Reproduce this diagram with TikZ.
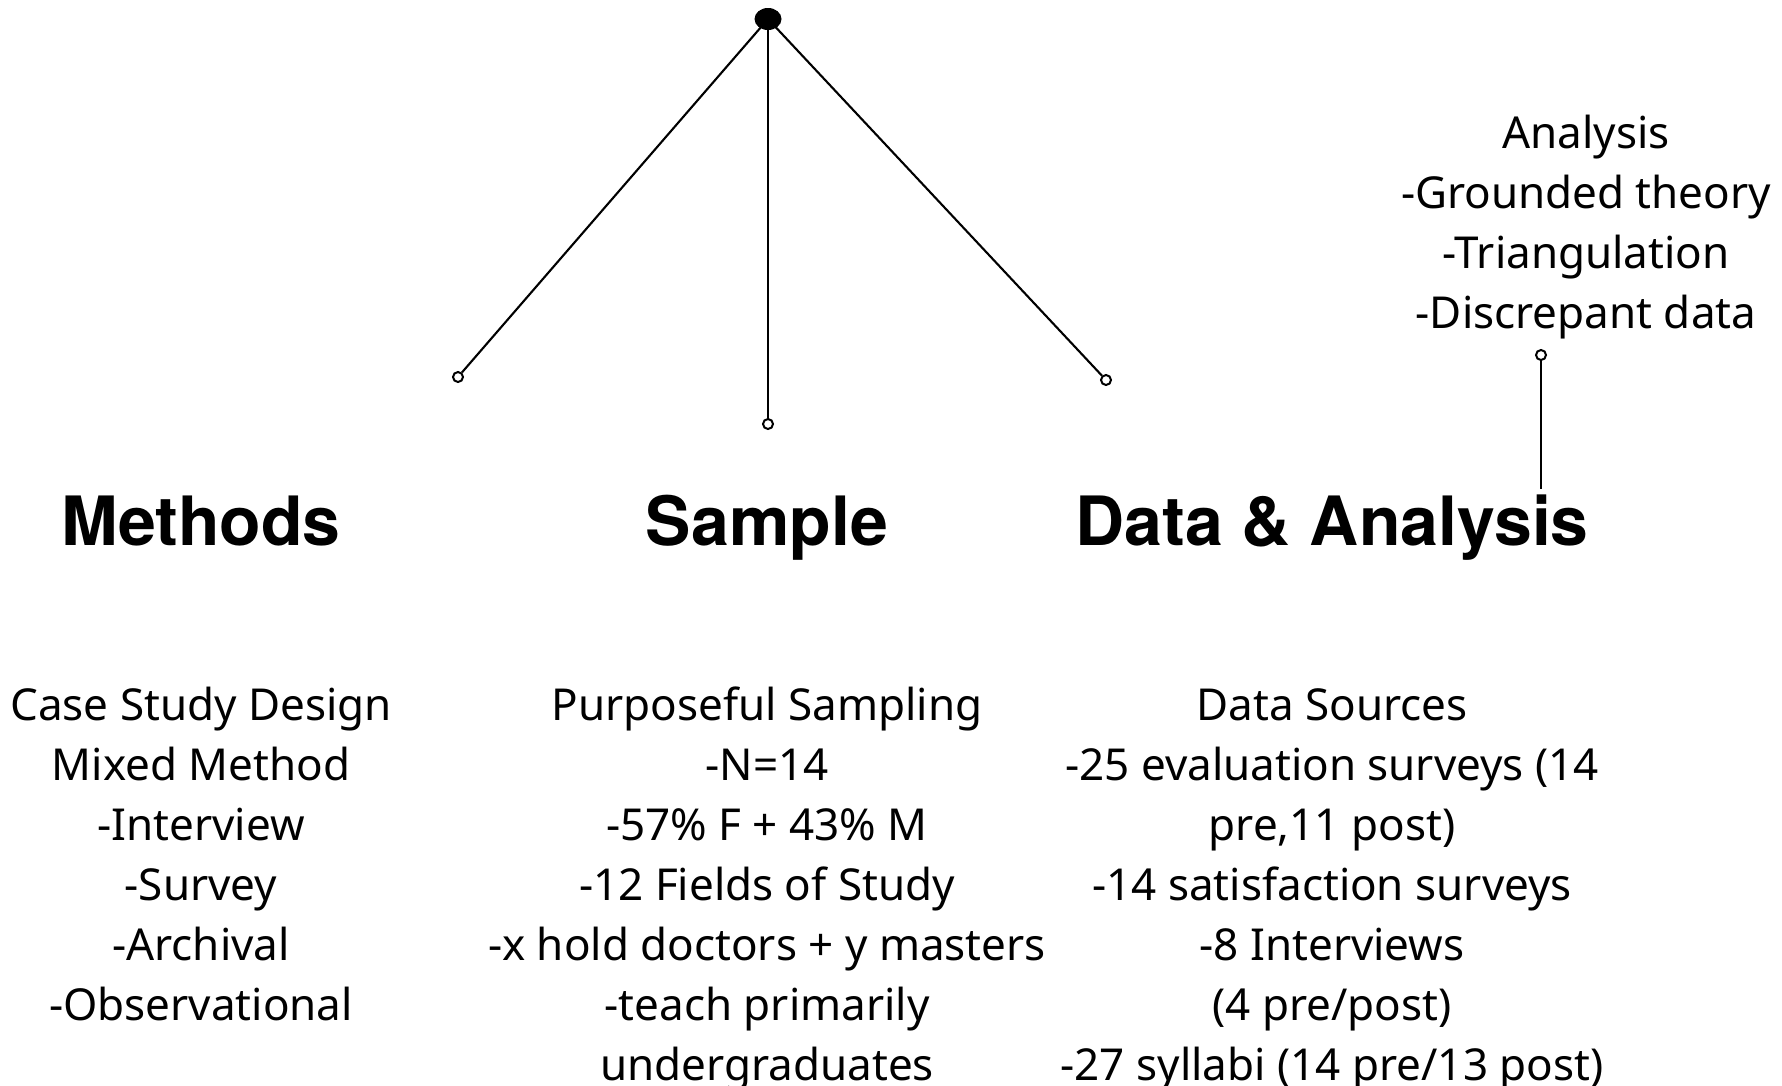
\documentclass[tikz,border=0pt]{standalone}
\usepackage{fontspec}
\setmainfont{Noto Sans}
\newfontfamily\headfont{TeX Gyre Heros}
\usetikzlibrary{shapes.geometric}
\tikzset{
  link/.style={line width=2.1pt},
  endpt/.style={circle, draw, fill=white, line width=2pt, minimum size=10pt, inner sep=0pt},
  hub/.style={ellipse, fill=black, minimum width=27pt, minimum height=22pt, inner sep=0pt},
  heading/.style={font=\headfont\fontsize{68}{68}\selectfont\bfseries, anchor=base},
  % multi-line blocks are placed by the baseline of their last line
  body/.style={font=\fontsize{44}{60}\selectfont, align=center, anchor=base, inner sep=0pt}
}
\begin{document}
\begin{tikzpicture}[x=1pt,y=-1pt]
\useasboundingbox (0,0) rectangle (1782,1085);

% hub and its three branches
\node[hub] (root) at (768,19) {};
\node[endpt] (mEnd) at (458,377) {};
\node[endpt] (sEnd) at (768,424) {};
\node[endpt] (dEnd) at (1106,380) {};
\draw[link] (root.center) -- (mEnd);
\draw[link] (root.center) -- (sEnd);
\draw[link] (root.center) -- (dEnd);

% column headings
\node[heading] (methods) at (201,545) {Methods};
\node[heading] (sample) at (767,545) {Sample};
\node[heading] (data) at (1332,545) {Data \& Analysis};

% analysis note above the data heading
\node[body] (analysis) at (1586,328) {Analysis\\-Grounded theory\\-Triangulation\\-Discrepant data};
\node[endpt] (aEnd) at (1541,355) {};
\coordinate (aFoot) at (1541,489);
\draw[link] (aEnd) -- (aFoot);

% column bodies
\node[body] (methodsBody) at (201,1020) {Case Study Design\\Mixed Method\\-Interview\\-Survey\\-Archival\\-Observational};
\node[body] (sampleBody) at (767,1080) {Purposeful Sampling\\-N=14\\-57\% F + 43\% M\\-12 Fields of Study\\-x hold doctors + y masters\\-teach primarily\\undergraduates};
\node[body] (dataBody) at (1332,1080) {Data Sources\\-25 evaluation surveys (14\\pre,11 post)\\-14 satisfaction surveys\\-8 Interviews\\(4 pre/post)\\-27 syllabi (14 pre/13 post)};
\end{tikzpicture}
\end{document}
